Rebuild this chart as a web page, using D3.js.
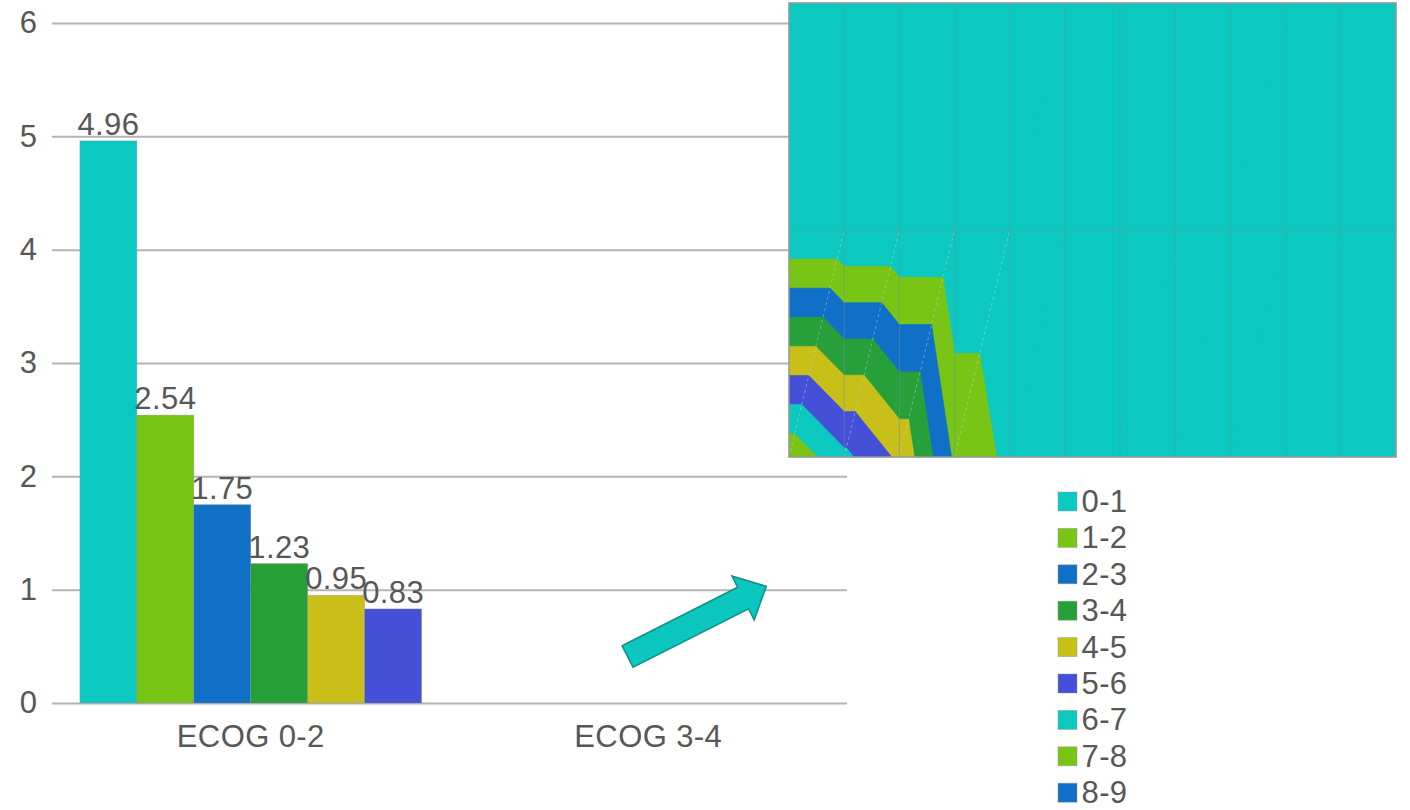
<!DOCTYPE html>
<html>
<head>
<meta charset="utf-8">
<script src="https://cdn.jsdelivr.net/npm/d3@7"></script>
<style>
  html, body { margin: 0; padding: 0; background: #fff; }
  svg { display: block; font-family: "Liberation Sans", Arial, sans-serif; }
  svg text { letter-spacing: 0.4px; }
</style>
</head>
<body>
<div id="chart"></div>
<script>
// bar chart data
const categories = ['ECOG 0-2', 'ECOG 3-4'];
const seriesNames = ['0-1', '1-2', '2-3', '3-4', '4-5', '5-6'];
const ecog02Values = [4.96, 2.54, 1.75, 1.23, 0.95, 0.83];
const ecog34Values = [null, null, null, null, null, null];
const yTicks = [0, 1, 2, 3, 4, 5, 6];

// legend (bands of the inset surface)
const legendLabels = ['0-1', '1-2', '2-3', '3-4', '4-5', '5-6', '6-7', '7-8', '8-9'];

// inset surface seen from the top, one array per row (front -> back)
const surfaceFront = [7.8, 6.25, 4.8, 1.84, 0.74, 0, 0, 0, 0, 0, 0, 0];
const surfaceMiddle = [0, 0, 0, 0, 0, 0, 0, 0, 0, 0, 0, 0];
const surfaceBack = [0, 0, 0, 0, 0, 0, 0, 0, 0, 0, 0, 0];
const bandLevels = [0, 1, 2, 3, 4, 5, 6, 7, 8, 9];

(function () {
  const W = 1410;
  const H = 810;
  const palette = ['#0bc9c0', '#78c516', '#106fc6', '#27a03a', '#c8c018', '#4550d9'];
  const textColor = '#575757';
  const gridColor = '#b4b4b4';
  const fontSize = 31;

  const plot = { left: 52, right: 847, top: 23, bottom: 703 };

  const svg = d3.select('#chart')
    .append('svg')
    .attr('width', W)
    .attr('height', H);

  // scales
  const x0 = d3.scaleBand()
    .domain(categories)
    .range([plot.left, plot.right])
    .padding(0);

  const x1 = d3.scaleBand()
    .domain(seriesNames)
    .range([0, x0.bandwidth()])
    .paddingInner(0)
    .paddingOuter(0.49);

  const y = d3.scaleLinear()
    .domain([0, 6])
    .range([plot.bottom, plot.top]);

  // y axis + gridlines
  const yAxis = svg.append('g')
    .attr('transform', `translate(${plot.left},0)`)
    .call(d3.axisLeft(y)
      .tickValues(yTicks)
      .tickFormat(d3.format('d'))
      .tickSize(-(plot.right - plot.left))
      .tickPadding(14.5));
  yAxis.select('.domain').remove();
  yAxis.selectAll('.tick line')
    .attr('stroke', gridColor)
    .attr('stroke-width', 2);
  yAxis.selectAll('.tick text')
    .attr('fill', textColor)
    .attr('font-size', fontSize)
    .attr('font-family', '"Liberation Sans", Arial, sans-serif');

  // x axis labels
  const xAxis = svg.append('g')
    .attr('transform', `translate(0,${plot.bottom})`)
    .call(d3.axisBottom(x0).tickSize(0).tickPadding(21.5));
  xAxis.select('.domain').remove();
  xAxis.selectAll('.tick text')
    .attr('fill', textColor)
    .attr('font-size', fontSize)
    .attr('font-family', '"Liberation Sans", Arial, sans-serif');

  // bars
  const groups = [ecog02Values, ecog34Values];
  const barData = [];
  categories.forEach(function (cat, ci) {
    seriesNames.forEach(function (s, si) {
      const v = groups[ci][si];
      if (v !== null) barData.push({ cat: cat, series: s, index: si, value: v });
    });
  });

  const bars = svg.append('g');
  bars.selectAll('rect')
    .data(barData)
    .enter()
    .append('rect')
    .attr('x', d => x0(d.cat) + x1(d.series))
    .attr('y', d => y(d.value))
    .attr('width', x1.bandwidth())
    .attr('height', d => y(0) - y(d.value))
    .attr('fill', d => palette[d.index % palette.length])
    .attr('stroke', 'rgba(140,140,140,0.45)')
    .attr('stroke-width', 0.8);

  bars.selectAll('text')
    .data(barData)
    .enter()
    .append('text')
    .attr('x', d => x0(d.cat) + x1(d.series) + x1.bandwidth() / 2)
    .attr('y', d => y(d.value) - 6)
    .attr('text-anchor', 'middle')
    .attr('fill', textColor)
    .attr('font-size', fontSize)
    .text(d => d3.format('.2f')(d.value));

  // block arrow pointing to the inset
  const tail = [x0('ECOG 3-4') + 0.448 * x0.bandwidth(), y(0.41)];
  const tip = [x0('ECOG 3-4') + 0.797 * x0.bandwidth(), y(1.03)];
  const len = Math.hypot(tip[0] - tail[0], tip[1] - tail[1]);
  const ang = Math.atan2(tip[1] - tail[1], tip[0] - tail[0]) * 180 / Math.PI;
  const shaftHalf = 12;
  const headLen = 26;
  const headHalf = 24.5;
  const arrowPts = [
    [0, -shaftHalf], [len - headLen, -shaftHalf], [len - headLen, -headHalf],
    [len, 0],
    [len - headLen, headHalf], [len - headLen, shaftHalf], [0, shaftHalf]
  ];
  svg.append('path')
    .attr('d', d3.line()(arrowPts) + 'Z')
    .attr('transform', `translate(${tail[0]},${tail[1]}) rotate(${ang})`)
    .attr('fill', '#0bc7bf')
    .attr('stroke', '#12928a')
    .attr('stroke-width', 1.6)
    .attr('stroke-linejoin', 'miter');

  // inset: surface chart seen from the top
  const rows = [surfaceFront, surfaceMiddle, surfaceBack];
  const nCols = surfaceFront.length;
  const sx = d3.scaleLinear().domain([0, nCols - 1]).range([789, 1396]);
  const sy = d3.scaleLinear().domain([0, rows.length - 1]).range([457, 3]);

  const clip = function (poly, level, keepAbove) {
    const out = [];
    for (let i = 0; i < poly.length; i++) {
      const a = poly[i];
      const b = poly[(i + 1) % poly.length];
      const aIn = keepAbove ? a[2] >= level : a[2] <= level;
      const bIn = keepAbove ? b[2] >= level : b[2] <= level;
      if (aIn) out.push(a);
      if (aIn !== bIn) {
        const t = (level - a[2]) / (b[2] - a[2]);
        out.push([a[0] + t * (b[0] - a[0]), a[1] + t * (b[1] - a[1]), level]);
      }
    }
    return out;
  };

  const triangles = [];
  const diagonals = [];
  for (let r = 0; r < rows.length - 1; r++) {
    for (let c = 0; c < nCols - 1; c++) {
      const BL = [sx(c), sy(r), rows[r][c]];
      const BR = [sx(c + 1), sy(r), rows[r][c + 1]];
      const TL = [sx(c), sy(r + 1), rows[r + 1][c]];
      const TR = [sx(c + 1), sy(r + 1), rows[r + 1][c + 1]];
      triangles.push([BL, BR, TR]);
      triangles.push([BL, TR, TL]);
      // the split line only shows where the cell crosses a band border
      if (d3.max([BL, BR, TL, TR], p => p[2]) >= bandLevels[1]) diagonals.push([BL, TR]);
    }
  }

  const bandPolys = [];
  triangles.forEach(function (tri) {
    for (let k = 0; k < bandLevels.length - 1; k++) {
      let p = clip(tri, bandLevels[k], true);
      if (p.length < 3) continue;
      p = clip(p, bandLevels[k + 1], false);
      if (p.length < 3) continue;
      bandPolys.push({ band: k, pts: p.map(q => [q[0], q[1]]) });
    }
  });

  const inset = svg.append('g');
  inset.append('rect')
    .attr('x', sx(0))
    .attr('y', sy(rows.length - 1))
    .attr('width', sx(nCols - 1) - sx(0))
    .attr('height', sy(0) - sy(rows.length - 1))
    .attr('fill', palette[0]);

  inset.selectAll('path.band')
    .data(bandPolys)
    .enter()
    .append('path')
    .attr('class', 'band')
    .attr('d', d => d3.line()(d.pts) + 'Z')
    .attr('fill', d => palette[d.band % palette.length])
    .attr('stroke', d => palette[d.band % palette.length])
    .attr('stroke-width', 0.6);

  // faint triangulation diagonals
  inset.selectAll('line.diag')
    .data(diagonals)
    .enter()
    .append('line')
    .attr('class', 'diag')
    .attr('x1', d => d[0][0])
    .attr('y1', d => d[0][1])
    .attr('x2', d => d[1][0])
    .attr('y2', d => d[1][1])
    .attr('stroke', 'rgba(215,215,215,0.55)')
    .attr('stroke-width', 0.8)
    .attr('stroke-dasharray', '3,3');

  // surface grid
  inset.selectAll('line.vgrid')
    .data(d3.range(1, nCols - 1))
    .enter()
    .append('line')
    .attr('class', 'vgrid')
    .attr('x1', c => sx(c))
    .attr('x2', c => sx(c))
    .attr('y1', sy(0))
    .attr('y2', sy(rows.length - 1))
    .attr('stroke', 'rgba(110,150,150,0.5)')
    .attr('stroke-width', 1);

  inset.selectAll('line.hgrid')
    .data(d3.range(1, rows.length - 1))
    .enter()
    .append('line')
    .attr('class', 'hgrid')
    .attr('x1', sx(0))
    .attr('x2', sx(nCols - 1))
    .attr('y1', r => sy(r))
    .attr('y2', r => sy(r))
    .attr('stroke', 'rgba(110,150,150,0.5)')
    .attr('stroke-width', 1);

  inset.append('rect')
    .attr('x', sx(0))
    .attr('y', sy(rows.length - 1))
    .attr('width', sx(nCols - 1) - sx(0))
    .attr('height', sy(0) - sy(rows.length - 1))
    .attr('fill', 'none')
    .attr('stroke', '#999')
    .attr('stroke-width', 1.5);

  // legend
  const legend = svg.append('g')
    .attr('transform', 'translate(1058,492)');
  const item = legend.selectAll('g')
    .data(legendLabels)
    .enter()
    .append('g')
    .attr('transform', (d, i) => `translate(0,${i * 36.4})`);
  item.append('rect')
    .attr('width', 19)
    .attr('height', 19)
    .attr('fill', (d, i) => palette[i % palette.length])
    .attr('stroke', 'rgba(150,150,150,0.6)')
    .attr('stroke-width', 0.8);
  item.append('text')
    .attr('x', 23.5)
    .attr('y', 20)
    .attr('fill', textColor)
    .attr('font-size', fontSize)
    .text(d => d);
})();
</script>
</body>
</html>
